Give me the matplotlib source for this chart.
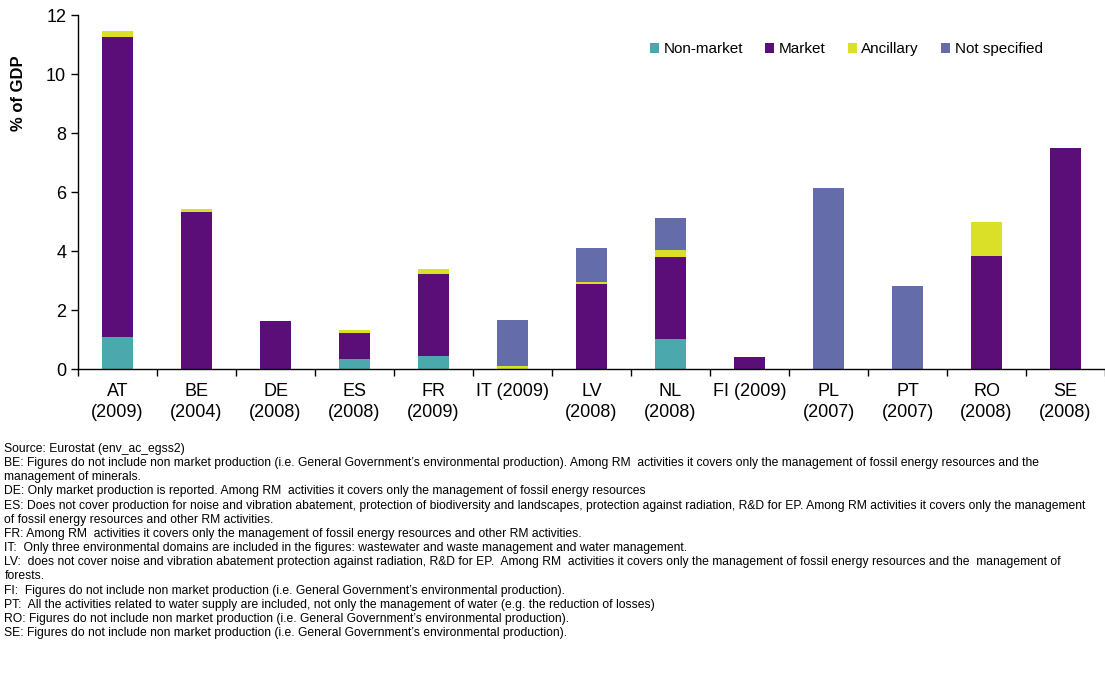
import matplotlib
matplotlib.use("Agg")
import matplotlib.pyplot as plt
import numpy as np

plt.rcParams["font.family"] = ["Liberation Sans", "DejaVu Sans"]

# ---------------------------------------------------------------------------
# Data (% of GDP)
# ---------------------------------------------------------------------------
countries = ["AT\n(2009)", "BE\n(2004)", "DE\n(2008)", "ES\n(2008)", "FR\n(2009)",
             "IT (2009)", "LV\n(2008)", "NL\n(2008)", "FI (2009)", "PL\n(2007)",
             "PT\n(2007)", "RO\n(2008)", "SE\n(2008)"]
non_market = [1.08, 0.0, 0.0, 0.34, 0.44, 0.0, 0.0, 1.02, 0.0, 0.0, 0.0, 0.0, 0.0]
market = [10.17, 5.32, 1.64, 0.88, 2.78, 0.0, 2.88, 2.78, 0.41, 0.0, 0.0, 3.83, 7.49]
ancillary = [0.2, 0.1, 0.0, 0.1, 0.17, 0.1, 0.07, 0.23, 0.0, 0.0, 0.0, 1.15, 0.0]
not_specified = [0.0, 0.0, 0.0, 0.0, 0.0, 1.56, 1.15, 1.09, 0.0, 6.14, 2.81, 0.0, 0.0]

series = [
    ("Non-market", non_market, "#4BA8AC"),
    ("Market", market, "#5C0E78"),
    ("Ancillary", ancillary, "#DADF27"),
    ("Not specified", not_specified, "#646DAA"),
]

notes = [
    "Source: Eurostat (env_ac_egss2)",
    "BE: Figures do not include non market production (i.e. General Government\u2019s environmental production). Among RM  activities it covers only the management of fossil energy resources and the",
    "management of minerals.",
    "DE: Only market production is reported. Among RM  activities it covers only the management of fossil energy resources",
    "ES: Does not cover production for noise and vibration abatement, protection of biodiversity and landscapes, protection against radiation, R&D for EP. Among RM activities it covers only the management",
    "of fossil energy resources and other RM activities.",
    "FR: Among RM  activities it covers only the management of fossil energy resources and other RM activities.",
    "IT:  Only three environmental domains are included in the figures: wastewater and waste management and water management.",
    "LV:  does not cover noise and vibration abatement protection against radiation, R&D for EP.  Among RM  activities it covers only the management of fossil energy resources and the  management of",
    "forests.",
    "FI:  Figures do not include non market production (i.e. General Government\u2019s environmental production).",
    "PT:  All the activities related to water supply are included, not only the management of water (e.g. the reduction of losses)",
    "RO: Figures do not include non market production (i.e. General Government\u2019s environmental production).",
    "SE: Figures do not include non market production (i.e. General Government\u2019s environmental production).",
]

fig = plt.figure(figsize=(11.05, 6.83), dpi=100)
ax = fig.add_axes([0.0706, 0.4597, 0.9294, 0.5183])

x = np.arange(len(countries))
bottom = np.zeros(len(countries))
for label, vals, color in series:
    vals = np.array(vals)
    ax.bar(x, vals, width=0.39, bottom=bottom, color=color, label=label)
    bottom += vals

ax.set_xlim(-0.5, len(countries) - 0.5)
ax.set_ylim(0, 12)
ax.set_yticks(np.arange(0, 13, 2))
ax.tick_params(axis="y", labelsize=13, direction="out", length=5, width=1)
ax.set_xticks(x)
ax.set_xticklabels(countries, fontsize=13, linespacing=1.35)
ax.tick_params(axis="x", length=0, pad=10)
ax.set_xticks(np.arange(-0.5, len(countries), 1), minor=True)
ax.tick_params(axis="x", which="minor", length=5, width=1, direction="out")
for s in ["top", "right"]:
    ax.spines[s].set_visible(False)
ax.spines["left"].set_linewidth(1)
ax.spines["bottom"].set_linewidth(1)
ax.set_ylabel("% of GDP", fontsize=12, fontweight="bold")
ax.yaxis.set_label_coords(-0.051, 0.78)

ax.legend(loc="upper right", bbox_to_anchor=(0.953, 0.962), ncol=4, frameon=False,
          fontsize=11, handlelength=0.6, handleheight=0.6, handletextpad=0.3,
          columnspacing=1.45)

fig.text(0.004, 1 - 443 / 683, "\n".join(notes), fontsize=8.7, va="top", ha="left",
         linespacing=1.24)

fig.savefig("out.png", dpi=100)
